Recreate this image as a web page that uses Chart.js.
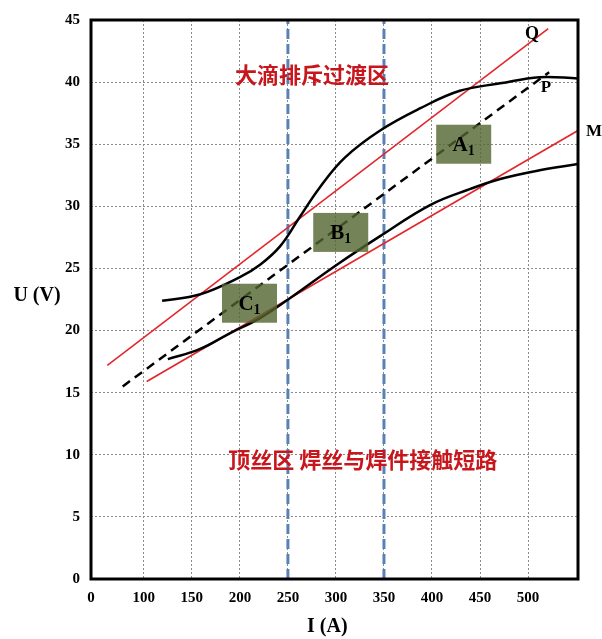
<!DOCTYPE html>
<html>
<head>
<meta charset="utf-8">
<script src="https://cdn.jsdelivr.net/npm/chart.js@4/dist/chart.umd.min.js"></script>
<style>
html, body { margin: 0; padding: 0; background: #fff; }
</style>
</head>
<body>
<canvas id="grafico" width="602" height="639"></canvas>
<script>
// eixo x "quebrado": entre 0 e 100 a escala é comprimida no original
var xTickValues = [45, 100, 150, 200, 250, 300, 350, 400, 450, 500];
var xTickLabels = ['0', '100', '150', '200', '250', '300', '350', '400', '450', '500'];

// curva superior
var upperI = [119, 158, 200, 221, 242, 262, 283, 309, 346, 388, 429, 471, 512, 552];
var upperU = [22.4, 22.9, 24.3, 25.3, 26.8, 29.1, 31.5, 33.9, 36.1, 37.9, 39.3, 39.9, 40.4, 40.3];

// curva inferior
var lowerI = [125, 158, 190, 221, 252, 301, 346, 398, 440, 471, 512, 552];
var lowerU = [17.7, 18.5, 19.8, 21.0, 22.6, 25.3, 27.6, 30.1, 31.4, 32.2, 32.9, 33.4];

// retas Q, P (tracejada) e M
var lineQI = [62, 521];
var lineQU = [17.2, 44.3];
var lineP_I = [78, 522];
var lineP_U = [15.5, 40.8];
var lineMI = [103, 552];
var lineMU = [15.9, 36.1];

// limites das zonas (tracejado azul)
var zoneI = [250, 350];

// regioes A1, B1, C1
var boxNames = ['A', 'B', 'C'];
var boxI = [433, 305, 210];
var boxU = [35.0, 27.9, 22.2];

var SERIF = "'Liberation Serif', 'DejaVu Serif', serif";
var CJK = "'Noto Sans CJK SC', 'Noto Sans CJK JP', sans-serif";

function pares(xs, ys) {
	return xs.map(function(v, i){ return {x: v, y: ys[i]}; });
}

function drawSub(ctx, main, sub, cx, cy, size) {
	var fMain = 'bold ' + size + 'px ' + SERIF;
	var fSub = 'bold ' + Math.round(size * 0.68) + 'px ' + SERIF;
	ctx.font = fMain;
	var w1 = ctx.measureText(main).width;
	ctx.font = fSub;
	var w2 = ctx.measureText(sub).width;
	var x0 = cx - (w1 + w2) / 2;
	ctx.textAlign = 'left';
	ctx.textBaseline = 'middle';
	ctx.font = fMain;
	ctx.fillText(main, x0, cy);
	ctx.font = fSub;
	ctx.fillText(sub, x0 + w1, cy + size * 0.3);
}

var decoracao = {
	id: 'decoracao',
	afterDatasetsDraw: function(chart) {
		var ctx = chart.ctx, a = chart.chartArea;
		var x = chart.scales.x, y = chart.scales.y;
		ctx.save();

		// caixas verdes
		for (var i = 0; i < boxNames.length; i++) {
			var cx = x.getPixelForValue(boxI[i]);
			var cy = y.getPixelForValue(boxU[i]);
			ctx.fillStyle = 'rgba(82,100,46,0.8)';
			ctx.fillRect(cx - 27.5, cy - 19.5, 55, 39);
			ctx.fillStyle = '#000';
			drawSub(ctx, boxNames[i], '1', cx, cy + 1, 21);
		}

		// moldura
		ctx.strokeStyle = '#000';
		ctx.lineWidth = 3;
		ctx.strokeRect(a.left, a.top, a.right - a.left, a.bottom - a.top);

		// letras das retas
		ctx.fillStyle = '#000';
		ctx.textAlign = 'center';
		ctx.textBaseline = 'middle';
		ctx.font = 'bold 18px ' + SERIF;
		ctx.fillText('Q', 532, 34);
		ctx.font = 'bold 17px ' + SERIF;
		ctx.fillText('P', 546, 88);
		ctx.fillText('M', 594, 132);

		// textos das zonas
		ctx.fillStyle = '#c8161d';
		ctx.font = 'bold 22px ' + CJK;
		ctx.fillText('大滴排斥过渡区', x.getPixelForValue(275), y.getPixelForValue(40.6));
		ctx.fillText('顶丝区 焊丝与焊件接触短路', x.getPixelForValue(328), y.getPixelForValue(9.6));

		// titulos dos eixos
		ctx.fillStyle = '#000';
		ctx.font = 'bold 20px ' + SERIF;
		ctx.fillText('U (V)', 37, y.getPixelForValue(22.8));
		ctx.fillText('I (A)', x.getPixelForValue(291), 627);
		ctx.restore();
	}
};

var preto = {
	fill: false, borderColor: '#000', borderWidth: 2.5, pointRadius: 0, tension: 0.4
};

var data = {
	datasets: [
		Object.assign({ data: pares(upperI, upperU) }, preto),
		Object.assign({ data: pares(lowerI, lowerU) }, preto),
		{ data: pares(lineQI, lineQU), borderColor: '#e3262c', borderWidth: 1.6, pointRadius: 0 },
		{ data: pares(lineMI, lineMU), borderColor: '#e3262c', borderWidth: 1.6, pointRadius: 0 },
		{ data: pares(lineP_I, lineP_U), borderColor: '#000', borderWidth: 2.5, borderDash: [9, 6], pointRadius: 0 },
		{ data: [{x: zoneI[0], y: 0}, {x: zoneI[0], y: 45}], borderColor: '#5a80b8', borderWidth: 3, borderDash: [10, 5], pointRadius: 0 },
		{ data: [{x: zoneI[1], y: 0}, {x: zoneI[1], y: 45}], borderColor: '#5a80b8', borderWidth: 3, borderDash: [10, 5], pointRadius: 0 }
	]
};

var options = {
	responsive: false,
	animation: false,
	layout: { padding: { left: 0, top: 17, right: 24, bottom: 0 } },
	plugins: { legend: { display: false }, tooltip: { enabled: false } },
	scales: {
		x: {
			type: 'linear', min: 45, max: 552,
			afterBuildTicks: function(s){ s.ticks = xTickValues.map(function(v){ return {value: v}; }); },
			afterFit: function(s){ s.height = 60; },
			ticks: {
				padding: 10, color: '#000', maxRotation: 0, autoSkip: false,
				font: { family: SERIF, size: 15, weight: 'bold' },
				callback: function(v){ var i = xTickValues.indexOf(v); return i >= 0 ? xTickLabels[i] : ''; }
			},
			grid: { color: '#8a8a8a', lineWidth: 1, drawTicks: false },
			border: { display: false, dash: [2, 2] }
		},
		y: {
			min: 0, max: 45,
			afterFit: function(s){ s.width = 91; },
			ticks: {
				stepSize: 5, padding: 11, color: '#000',
				font: { family: SERIF, size: 15, weight: 'bold' }
			},
			grid: { color: '#8a8a8a', lineWidth: 1, drawTicks: false },
			border: { display: false, dash: [2, 2] }
		}
	}
};

var ctx = document.getElementById('grafico').getContext('2d');
new Chart(ctx, { type: 'line', data: data, options: options, plugins: [decoracao] });
</script>
</body>
</html>
